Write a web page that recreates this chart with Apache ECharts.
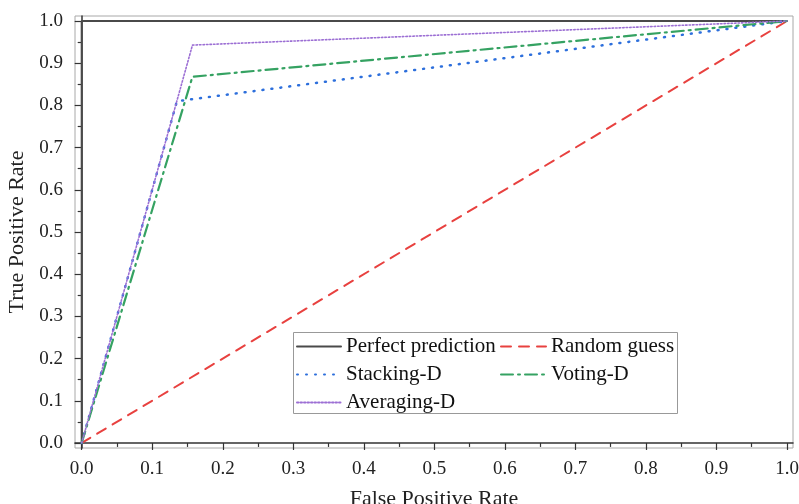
<!DOCTYPE html>
<html lang="en">
<head>
<meta charset="UTF-8">
<title>ROC curves</title>
<script src="https://cdn.jsdelivr.net/npm/echarts@6/dist/echarts.min.js"></script>
<style>
  html, body { margin: 0; padding: 0; background: #fff; }
  #chart { width: 799px; height: 504px; }
</style>
</head>
<body>
<div id="chart"></div>
<script>
// data
var perfect   = [[0, 0], [0, 1], [1, 1]];
var randomG   = [[0, 0], [1, 1]];
var stackingD = [[0, 0], [0.135, 0.81], [1, 1]];
var votingD   = [[0, 0], [0.157, 0.868], [1, 1]];
var averagingD = [[0, 0], [0.157, 0.943], [1, 1]];

var majorTicks = [0, 0.1, 0.2, 0.3, 0.4, 0.5, 0.6, 0.7, 0.8, 0.9, 1.0];
var minorTicks = [0.05, 0.15, 0.25, 0.35, 0.45, 0.55, 0.65, 0.75, 0.85, 0.95];

var serif = '"Liberation Serif", "DejaVu Serif", serif';
var chart = echarts.init(document.getElementById('chart'));

function majorAxis(name, gap, min, max, pos) {
  return {
    type: 'value', min: min, max: max, position: pos,
    name: name, nameLocation: 'middle', nameGap: gap,
    nameTextStyle: { fontFamily: serif, fontSize: 22, color: '#222' },
    axisLine: { show: true, lineStyle: { color: '#333', width: 1.5 } },
    axisTick: { show: true, customValues: majorTicks, length: 7, lineStyle: { color: '#333', width: 1.2 } },
    axisLabel: {
      customValues: majorTicks, margin: 12,
      fontFamily: serif, fontSize: 19, color: '#222',
      formatter: function (v) { return v.toFixed(1); }
    },
    splitLine: { show: false }
  };
}
function minorAxis(min, max, pos) {
  return {
    type: 'value', min: min, max: max, position: pos,
    axisLine: { show: false },
    axisTick: { show: true, customValues: minorTicks, length: 4, lineStyle: { color: '#333', width: 1.2 } },
    axisLabel: { show: false },
    splitLine: { show: false }
  };
}

var xMin = -0.0095, xMax = 1.0085, yMin = -0.012, yMax = 1.012;

function line(name, data, color, width, type) {
  return {
    name: name, type: 'line', data: data, symbol: 'none',
    lineStyle: { color: color, width: width, type: type, cap: 'round' },
    itemStyle: { color: color }
  };
}

var legendCommon = {
  top: 331, orient: 'vertical', itemHeight: 10, itemGap: 7, z: 10,
  itemStyle: { opacity: 0 },
  textStyle: { fontFamily: serif, fontSize: 21, color: '#111', lineHeight: 20 }
};

chart.setOption({
  animation: false,
  grid: {
    left: 75, top: 16, right: 6, bottom: 56, outerBoundsMode: 'none', containLabel: false,
    show: true, borderColor: '#a8a8a8', borderWidth: 1
  },
  xAxis: [majorAxis('False Positive Rate', 40, xMin, xMax, 'bottom'), minorAxis(xMin, xMax, 'bottom')],
  yAxis: [majorAxis('True Positive Rate', 41, yMin, yMax, 'left'), minorAxis(yMin, yMax, 'left')],
  legend: [
    Object.assign({ left: 291, itemWidth: 44, data: ['Perfect prediction', 'Stacking-D', 'Averaging-D'] }, legendCommon),
    Object.assign({ left: 495, itemWidth: 45, data: ['Random guess', 'Voting-D'] }, legendCommon)
  ],
  graphic: [{
    type: 'rect', left: 293, top: 332, z: 5,
    shape: { width: 384, height: 81 },
    style: { fill: '#fff', stroke: '#999', lineWidth: 1 }
  }],
  series: [
    line('Perfect prediction', perfect, '#4a4a4a', 2, 'solid'),
    line('Random guess', randomG, '#e8413f', 2, [10, 8]),
    line('Stacking-D', stackingD, '#2d6fdc', 2.5, [1, 8]),
    line('Voting-D', votingD, '#35a262', 2.2, [12, 5, 2, 5]),
    line('Averaging-D', averagingD, '#9c6fd4', 1.6, [1.5, 2])
  ]
});
</script>
</body>
</html>
